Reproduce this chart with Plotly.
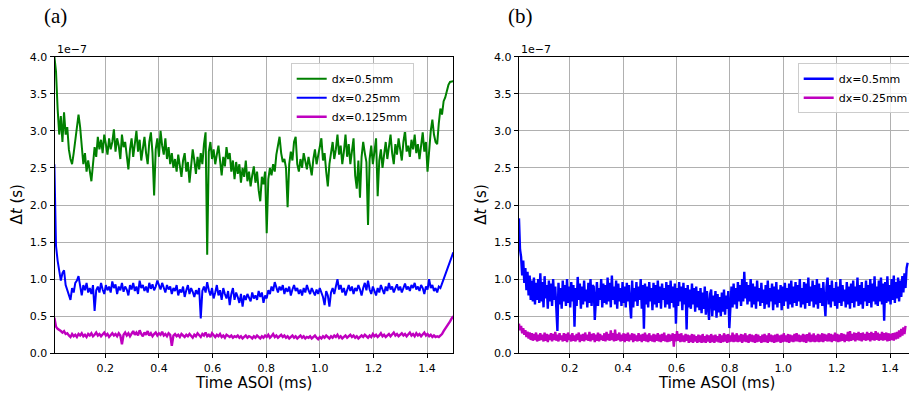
import numpy as np
import plotly.graph_objects as go

# Time step (Δt, in units of 1e-7 s) versus time after start of injection.
# Panel (a): three mesh resolutions; panel (b): two resolutions.

# ---- panel (a): samples every 6 µs starting at 0.010 ms ----
A_T0, A_DT = 0.010, 0.006

dt_a_05 = [
    4.00, 3.80, 3.30, 2.95, 3.20, 2.85, 3.25, 2.95, 3.05, 2.75,
    2.62, 2.55, 2.70, 2.85, 3.05, 3.22, 3.05, 2.80, 2.55, 2.70,
    2.45, 2.60, 2.48, 2.32, 2.55, 2.78, 2.65, 2.92, 2.75, 2.88,
    2.70, 2.95, 2.82, 2.68, 2.90, 2.75, 2.85, 3.02, 2.72, 2.90,
    2.80, 2.62, 2.95, 2.78, 2.85, 2.70, 2.48, 2.75, 2.90, 2.65,
    2.85, 3.00, 2.72, 2.88, 2.60, 2.80, 2.92, 2.70, 2.55, 2.85,
    2.98, 2.70, 2.13, 2.75, 2.90, 2.65, 3.00, 2.80, 2.68, 2.90,
    2.62, 2.78, 2.55, 2.70, 2.50, 2.62, 2.45, 2.68, 2.52, 2.38,
    2.60, 2.70, 2.45, 2.58, 2.30, 2.55, 2.75, 2.60, 2.42, 2.65,
    2.48, 2.70, 2.55, 2.82, 2.98, 1.33, 2.72, 2.85, 2.62, 2.75,
    2.55, 2.68, 2.80, 2.60, 2.40, 2.65, 2.52, 2.78, 2.62, 2.70,
    2.45, 2.60, 2.35, 2.58, 2.42, 2.55, 2.30, 2.50, 2.38, 2.60,
    2.32, 2.45, 2.25, 2.40, 2.52, 2.30, 2.45, 2.20, 2.05, 2.38,
    2.28, 2.45, 1.62, 2.35, 2.50, 2.40, 2.55, 2.45, 2.68, 2.80,
    2.92, 2.70, 2.58, 2.62, 2.50, 1.97, 2.55, 2.72, 2.60, 2.85,
    2.92, 2.55, 2.45, 2.62, 2.50, 2.70, 2.58, 2.48, 2.65, 2.52,
    2.40, 2.62, 2.75, 2.55, 2.68, 2.82, 2.90, 2.60, 2.70, 2.45,
    2.25, 2.55, 2.70, 2.85, 2.62, 2.75, 2.95, 2.68, 2.80, 2.55,
    2.72, 2.95, 2.65, 2.82, 2.55, 2.70, 2.90, 2.40, 2.22, 2.60,
    2.10, 2.65, 2.85, 2.70, 2.58, 1.73, 2.62, 2.80, 2.55, 2.72,
    2.90, 2.12, 2.60, 2.75, 2.50, 2.68, 2.85, 2.62, 2.78, 2.95,
    2.70, 2.55, 2.82, 2.68, 2.90, 2.75, 2.60, 2.85, 3.00, 2.72,
    2.80, 2.65, 2.88, 2.75, 2.95, 2.70, 2.82, 2.62, 2.78, 2.98,
    2.72, 2.85, 2.45, 2.80, 3.00, 3.15, 2.95, 2.85, 2.82, 3.10,
    3.30, 3.22, 3.40, 3.45, 3.55, 3.62, 3.66, 3.66, 3.67,
]

dt_a_025 = [
    2.55, 1.45, 1.25, 1.10, 0.98, 1.08, 1.12, 0.92, 0.85, 0.78,
    0.72, 0.88, 0.82, 0.95, 0.98, 1.04, 0.92, 0.78, 0.92, 0.85,
    0.95, 0.82, 0.88, 0.80, 0.92, 0.57, 0.85, 0.90, 0.82, 0.95,
    0.86, 0.80, 0.92, 0.85, 0.90, 0.82, 0.97, 0.88, 0.93, 0.80,
    0.90, 0.85, 0.95, 0.83, 0.90, 0.86, 0.78, 0.92, 0.86, 0.95,
    0.84, 0.90, 0.80, 0.98, 0.88, 0.92, 0.84, 0.90, 0.82, 0.95,
    0.87, 0.93, 0.85, 0.90, 0.98, 0.92, 0.86, 0.95, 0.88, 0.82,
    0.92, 0.86, 0.90, 0.80, 0.88, 0.84, 0.92, 0.78, 0.86, 0.82,
    0.90, 0.76, 0.85, 0.92, 0.80, 0.88, 0.83, 0.76, 0.85, 0.80,
    0.88, 0.47, 0.84, 0.90, 0.82, 0.96, 0.85, 0.78, 0.88, 0.74,
    0.82, 0.92, 0.78, 0.85, 0.72, 0.88, 0.80, 0.74, 0.84, 0.65,
    0.80, 0.88, 0.72, 0.82, 0.76, 0.68, 0.80, 0.63, 0.78, 0.72,
    0.80, 0.75, 0.70, 0.82, 0.74, 0.78, 0.72, 0.84, 0.76, 0.82,
    0.68, 0.78, 0.74, 0.85, 0.80, 0.90, 0.84, 0.96, 0.88, 0.82,
    0.90, 0.85, 0.92, 0.80, 0.88, 0.83, 0.90, 0.78, 0.86, 0.92,
    0.84, 0.88, 0.80, 0.86, 0.78, 0.88, 0.82, 0.92, 0.85, 0.80,
    0.88, 0.82, 0.78, 0.86, 0.80, 0.88, 0.82, 0.76, 0.65, 0.84,
    0.78, 0.63, 0.82, 0.88, 0.80, 0.90, 1.00, 0.86, 0.92, 0.82,
    0.88, 0.78, 0.86, 0.92, 0.84, 0.90, 0.80, 0.88, 0.84, 0.92,
    0.86, 0.78, 0.88, 0.95, 0.85, 0.98, 0.86, 0.80, 0.90, 0.84,
    0.78, 0.88, 0.82, 0.92, 0.86, 0.80, 0.90, 0.84, 0.95, 0.86,
    0.90, 0.82, 0.88, 0.93, 0.85, 0.90, 0.82, 0.88, 0.94, 0.86,
    0.90, 0.84, 0.92, 0.88, 0.95, 0.86, 0.90, 0.84, 0.92, 0.88,
    0.80, 0.90, 0.86, 1.00, 0.88, 0.92, 0.84, 0.88, 0.82, 0.90,
    0.88, 0.94, 1.00, 1.06, 1.12, 1.18, 1.24, 1.30, 1.36,
]

dt_a_0125 = [
    0.48, 0.36, 0.33, 0.32, 0.30, 0.28, 0.30, 0.26, 0.27, 0.24,
    0.22, 0.26, 0.23, 0.25, 0.22, 0.26, 0.24, 0.27, 0.23, 0.25,
    0.22, 0.26, 0.24, 0.27, 0.23, 0.25, 0.28, 0.24, 0.26, 0.23,
    0.25, 0.28, 0.24, 0.26, 0.22, 0.25, 0.27, 0.24, 0.26, 0.23,
    0.27, 0.24, 0.12, 0.25, 0.28, 0.24, 0.27, 0.23, 0.26, 0.30,
    0.25, 0.28, 0.24, 0.31, 0.26, 0.23, 0.28, 0.25, 0.30, 0.24,
    0.27, 0.23, 0.26, 0.28, 0.24, 0.27, 0.25, 0.29, 0.24, 0.26,
    0.23, 0.27, 0.25, 0.10, 0.24, 0.26, 0.23, 0.25, 0.22, 0.26,
    0.24, 0.22, 0.25, 0.23, 0.26, 0.24, 0.21, 0.25, 0.23, 0.27,
    0.24, 0.22, 0.26, 0.24, 0.28, 0.23, 0.25, 0.22, 0.27, 0.24,
    0.22, 0.25, 0.23, 0.26, 0.22, 0.24, 0.21, 0.25, 0.23, 0.22,
    0.24, 0.21, 0.23, 0.22, 0.24, 0.21, 0.23, 0.20, 0.22, 0.24,
    0.21, 0.23, 0.22, 0.20, 0.23, 0.21, 0.24, 0.22, 0.20, 0.23,
    0.21, 0.24, 0.22, 0.25, 0.21, 0.23, 0.26, 0.22, 0.24, 0.21,
    0.23, 0.25, 0.22, 0.24, 0.21, 0.23, 0.20, 0.22, 0.24, 0.21,
    0.23, 0.20, 0.22, 0.24, 0.21, 0.23, 0.20, 0.22, 0.21, 0.23,
    0.20, 0.22, 0.24, 0.21, 0.19, 0.22, 0.20, 0.23, 0.21, 0.24,
    0.22, 0.20, 0.23, 0.21, 0.24, 0.22, 0.25, 0.21, 0.23, 0.20,
    0.22, 0.24, 0.21, 0.23, 0.25, 0.22, 0.24, 0.21, 0.23, 0.20,
    0.22, 0.24, 0.22, 0.25, 0.23, 0.21, 0.24, 0.22, 0.26, 0.23,
    0.25, 0.22, 0.24, 0.27, 0.23, 0.25, 0.22, 0.24, 0.26, 0.23,
    0.25, 0.28, 0.24, 0.26, 0.23, 0.25, 0.27, 0.24, 0.26, 0.23,
    0.25, 0.28, 0.24, 0.26, 0.23, 0.27, 0.24, 0.26, 0.23, 0.25,
    0.28, 0.24, 0.26, 0.23, 0.25, 0.22, 0.24, 0.22, 0.23, 0.22,
    0.24, 0.26, 0.30, 0.33, 0.36, 0.40, 0.43, 0.47, 0.50,
]

# ---- panel (b): samples every 4 µs starting at 0.010 ms ----
B_T0, B_DT = 0.010, 0.004

dt_b_05 = [
    1.82, 1.40, 1.30, 1.05, 1.25, 0.95, 1.15, 0.85, 1.10, 0.78,
    1.05, 0.72, 0.98, 0.70, 1.02, 0.66, 0.95, 0.72, 1.00, 0.68,
    1.08, 0.70, 0.96, 0.62, 1.04, 0.74, 0.92, 0.60, 0.98, 0.70,
    0.94, 0.64, 1.00, 0.72, 0.90, 0.62, 0.30, 0.95, 0.66, 0.88,
    0.60, 0.98, 0.70, 0.92, 0.64, 1.00, 0.68, 0.90, 0.62, 0.96,
    0.70, 0.92, 0.36, 0.88, 0.64, 1.03, 0.72, 0.94, 0.60, 0.90,
    0.66, 0.98, 0.70, 0.86, 0.62, 0.95, 0.68, 1.00, 0.64, 0.92,
    0.90, 0.45, 0.70, 0.96, 0.64, 0.88, 0.72, 1.00, 0.62, 0.94,
    0.68, 0.92, 0.66, 1.02, 0.70, 0.95, 0.62, 1.05, 0.72, 0.90,
    0.66, 0.98, 0.60, 0.94, 0.70, 0.88, 0.64, 0.96, 0.68, 0.90,
    0.62, 0.95, 0.70, 0.92, 0.66, 0.47, 0.98, 0.62, 0.88, 0.70,
    0.96, 0.64, 0.90, 0.72, 1.00, 0.60, 0.92, 0.33, 0.94, 0.66,
    0.90, 0.62, 0.96, 0.70, 0.88, 0.58, 0.95, 0.66, 0.92, 0.62,
    0.98, 0.68, 0.90, 0.60, 0.94, 0.72, 0.88, 0.62, 0.96, 0.66,
    0.92, 0.60, 0.98, 0.68, 0.90, 0.62, 0.94, 0.40, 0.88, 0.64,
    0.96, 0.70, 0.90, 0.58, 0.95, 0.66, 0.88, 0.32, 0.92, 0.62,
    0.86, 0.60, 0.94, 0.66, 0.88, 0.56, 0.90, 0.62, 0.84, 0.58,
    0.88, 0.54, 0.82, 0.60, 0.90, 0.52, 0.84, 0.56, 0.45, 0.80,
    0.86, 0.50, 0.78, 0.58, 0.84, 0.48, 0.80, 0.55, 0.76, 0.50,
    0.82, 0.56, 0.86, 0.52, 0.78, 0.60, 0.84, 0.34, 0.55, 0.90,
    0.62, 0.94, 0.66, 0.88, 0.60, 0.96, 0.70, 0.92, 0.64, 1.00,
    0.70, 1.10, 0.74, 0.96, 0.66, 0.92, 0.70, 1.00, 0.62, 0.94,
    0.66, 0.90, 0.60, 0.98, 0.70, 0.88, 0.64, 0.95, 0.68, 0.86,
    0.60, 0.92, 0.66, 0.98, 0.62, 0.88, 0.70, 0.94, 0.58, 0.90,
    0.66, 0.96, 0.62, 0.86, 0.68, 0.92, 0.58, 0.90, 0.64, 0.95,
    0.70, 0.88, 0.60, 0.94, 0.66, 0.98, 0.62, 0.90, 0.68, 0.96,
    0.64, 0.92, 0.70, 1.00, 0.62, 0.88, 0.66, 0.96, 0.60, 0.94,
    0.68, 1.02, 0.64, 0.90, 0.70, 0.98, 0.62, 0.92, 0.66, 1.00,
    0.60, 0.94, 0.68, 0.88, 0.64, 0.96, 0.70, 0.50, 0.90, 1.02,
    0.66, 0.92, 0.62, 0.98, 0.70, 0.88, 0.64, 0.96, 0.60, 0.90,
    0.68, 1.00, 0.64, 0.92, 0.70, 0.86, 0.62, 0.96, 0.66, 0.90,
    0.60, 0.94, 0.68, 0.98, 0.62, 0.90, 0.70, 1.02, 0.64, 0.92,
    0.66, 0.96, 0.60, 0.88, 0.70, 0.98, 0.64, 0.92, 0.68, 1.00,
    0.62, 0.94, 0.70, 1.04, 0.66, 0.90, 0.64, 0.98, 0.70, 1.02,
    0.66, 0.94, 0.44, 0.96, 0.68, 1.04, 0.70, 0.92, 0.66, 1.00,
    0.72, 1.05, 0.68, 0.96, 0.74, 1.02, 0.70, 0.98, 0.76, 1.04,
    0.82, 1.08, 0.88, 1.15, 1.22,
]

dt_b_025 = [
    0.40, 0.31, 0.37, 0.27, 0.34, 0.25, 0.31, 0.22, 0.29, 0.20,
    0.28, 0.18, 0.27, 0.17, 0.26, 0.18, 0.28, 0.16, 0.25, 0.17,
    0.27, 0.18, 0.25, 0.16, 0.28, 0.17, 0.26, 0.15, 0.25, 0.18,
    0.27, 0.16, 0.26, 0.18, 0.29, 0.17, 0.25, 0.16, 0.27, 0.18,
    0.24, 0.16, 0.27, 0.17, 0.26, 0.15, 0.28, 0.18, 0.25, 0.16,
    0.27, 0.17, 0.24, 0.16, 0.26, 0.18, 0.28, 0.15, 0.25, 0.17,
    0.26, 0.16, 0.28, 0.18, 0.25, 0.17, 0.29, 0.16, 0.26, 0.18,
    0.27, 0.15, 0.25, 0.17, 0.28, 0.16, 0.26, 0.18, 0.24, 0.17,
    0.27, 0.16, 0.29, 0.18, 0.26, 0.17, 0.31, 0.18, 0.27, 0.16,
    0.32, 0.17, 0.26, 0.18, 0.28, 0.16, 0.25, 0.17, 0.27, 0.15,
    0.26, 0.17, 0.28, 0.16, 0.25, 0.18, 0.27, 0.15, 0.26, 0.17,
    0.24, 0.16, 0.27, 0.17, 0.25, 0.15, 0.26, 0.17, 0.28, 0.16,
    0.25, 0.15, 0.27, 0.17, 0.24, 0.16, 0.26, 0.15, 0.25, 0.17,
    0.27, 0.16, 0.25, 0.15, 0.26, 0.17, 0.28, 0.16, 0.24, 0.15,
    0.26, 0.16, 0.25, 0.17, 0.27, 0.09, 0.26, 0.16, 0.30, 0.17,
    0.26, 0.15, 0.27, 0.16, 0.24, 0.15, 0.26, 0.17, 0.25, 0.14,
    0.24, 0.15, 0.26, 0.14, 0.25, 0.16, 0.23, 0.14, 0.25, 0.15,
    0.24, 0.14, 0.26, 0.15, 0.23, 0.14, 0.25, 0.16, 0.24, 0.14,
    0.26, 0.15, 0.24, 0.14, 0.25, 0.16, 0.23, 0.15, 0.26, 0.14,
    0.24, 0.15, 0.27, 0.16, 0.25, 0.14, 0.26, 0.15, 0.24, 0.16,
    0.28, 0.15, 0.25, 0.16, 0.27, 0.15, 0.24, 0.16, 0.26, 0.14,
    0.25, 0.16, 0.27, 0.15, 0.24, 0.14, 0.26, 0.16, 0.25, 0.15,
    0.24, 0.14, 0.26, 0.15, 0.25, 0.16, 0.23, 0.14, 0.25, 0.15,
    0.26, 0.15, 0.24, 0.14, 0.27, 0.16, 0.25, 0.15, 0.24, 0.14,
    0.25, 0.15, 0.26, 0.16, 0.24, 0.14, 0.25, 0.15, 0.27, 0.16,
    0.24, 0.15, 0.26, 0.14, 0.25, 0.16, 0.24, 0.15, 0.26, 0.16,
    0.27, 0.16, 0.25, 0.15, 0.24, 0.16, 0.26, 0.15, 0.25, 0.14,
    0.26, 0.16, 0.28, 0.15, 0.25, 0.16, 0.27, 0.15, 0.24, 0.16,
    0.26, 0.15, 0.25, 0.16, 0.27, 0.15, 0.26, 0.17, 0.25, 0.16,
    0.27, 0.16, 0.26, 0.15, 0.25, 0.17, 0.28, 0.16, 0.26, 0.15,
    0.25, 0.16, 0.27, 0.17, 0.26, 0.15, 0.25, 0.17, 0.29, 0.16,
    0.30, 0.17, 0.26, 0.18, 0.28, 0.16, 0.27, 0.18, 0.29, 0.17,
    0.27, 0.16, 0.28, 0.18, 0.26, 0.17, 0.29, 0.18, 0.27, 0.16,
    0.29, 0.18, 0.27, 0.17, 0.30, 0.18, 0.28, 0.17, 0.26, 0.18,
    0.29, 0.17, 0.27, 0.18, 0.28, 0.16, 0.27, 0.17, 0.26, 0.18,
    0.27, 0.17, 0.28, 0.19, 0.29, 0.20, 0.31, 0.22, 0.33, 0.24,
    0.35, 0.26, 0.37,
]

X_TICKS = [0.2, 0.4, 0.6, 0.8, 1.0, 1.2, 1.4]
Y_TICKS = [0.0, 0.5, 1.0, 1.5, 2.0, 2.5, 3.0, 3.5, 4.0]

GREEN, BLUE, MAGENTA = "#008000", "#0000ff", "#bf00bf"
FONT = "DejaVu Sans"

W, H = 909, 397


def times(t0, dt, vals):
    return t0 + dt * np.arange(len(vals))


fig = go.Figure()

series = [
    ("x", "y", "legend", times(A_T0, A_DT, dt_a_05), dt_a_05, GREEN, "dx=0.5mm", 2.0),
    ("x", "y", "legend", times(A_T0, A_DT, dt_a_025), dt_a_025, BLUE, "dx=0.25mm", 2.0),
    ("x", "y", "legend", times(A_T0, A_DT, dt_a_0125), dt_a_0125, MAGENTA, "dx=0.125mm", 2.4),
    ("x2", "y2", "legend2", times(B_T0, B_DT, dt_b_05), dt_b_05, BLUE, "dx=0.5mm", 2.4),
    ("x2", "y2", "legend2", times(B_T0, B_DT, dt_b_025), dt_b_025, MAGENTA, "dx=0.25mm", 2.4),
]
for xa, ya, lg, t, v, c, name, lw in series:
    fig.add_trace(go.Scatter(
        x=t, y=v, mode="lines", name=name, xaxis=xa, yaxis=ya, legend=lg,
        line=dict(color=c, width=lw),
    ))

# Axes placement in pixels
AX_A = (54.5, 453.0)
AX_B = (518.7, 909.0)
AX_TOP, AX_BOT = 56.7, 353.3

def px_x(p):
    return p / W

def px_y(p):
    return 1 - p / H

common_x = dict(
    tickvals=X_TICKS, tickformat=".1f", ticks="outside", ticklen=4, tickwidth=1,
    tickcolor="black", showgrid=True, gridcolor="#b0b0b0", gridwidth=1,
    showline=True, linecolor="black", linewidth=1, mirror=True, zeroline=False,
    tickfont=dict(family=FONT, size=11, color="black"), automargin=False,
)
common_y = dict(
    range=[0, 4], tickvals=Y_TICKS, tickformat=".1f", ticks="outside", ticklen=4,
    tickwidth=1, tickcolor="black", showgrid=True, gridcolor="#b0b0b0", gridwidth=1,
    showline=True, linecolor="black", linewidth=1, zeroline=False,
    tickfont=dict(family=FONT, size=11, color="black"), automargin=False,
)

legend_style = dict(
    xanchor="left", yanchor="top",
    bgcolor="rgba(255,255,255,0.8)", bordercolor="#cccccc", borderwidth=1,
    font=dict(family=FONT, size=11, color="black"), tracegroupgap=0,
)

fig.update_layout(
    width=W, height=H, margin=dict(l=0, r=0, t=0, b=0, pad=0, autoexpand=False),
    paper_bgcolor="white", plot_bgcolor="white",
    font=dict(family=FONT, color="black"),
    xaxis=dict(common_x, domain=[px_x(AX_A[0]), px_x(AX_A[1])], range=[0.0104, 1.497], anchor="y"),
    yaxis=dict(common_y, domain=[px_y(AX_BOT), px_y(AX_TOP)], anchor="x", mirror=True),
    xaxis2=dict(common_x, domain=[px_x(AX_B[0]), 1.0], range=[0.009, 1.471], anchor="y2"),
    yaxis2=dict(common_y, domain=[px_y(AX_BOT), px_y(AX_TOP)], anchor="x2", mirror=False),
    legend=dict(legend_style, x=px_x(290.7), y=px_y(63.3)),
    legend2=dict(legend_style, x=px_x(797.7), y=px_y(63.3)),
    showlegend=True,
)

annotations = []
for (left, right), tag in [(AX_A, "(a)"), (AX_B, "(b)")]:
    annotations += [
        dict(text=tag, x=px_x(left - 13), y=px_y(16), xref="paper", yref="paper",
             xanchor="left", yanchor="middle", showarrow=False,
             font=dict(family="Liberation Serif", size=21, color="black")),
        dict(text="1e\u22127", x=px_x(left + 0.5), y=px_y(50), xref="paper", yref="paper",
             xanchor="left", yanchor="middle", showarrow=False,
             font=dict(family=FONT, size=11, color="black")),
        dict(text="Time ASOI (ms)", x=px_x((left + min(right, 911)) / 2 + (0 if tag == "(a)" else 3)),
             y=px_y(383), xref="paper", yref="paper", xanchor="center", yanchor="middle",
             showarrow=False, font=dict(family=FONT, size=15, color="black")),
        dict(text="\u0394<i>t</i> (s)", x=px_x(left - 38), y=px_y((AX_TOP + AX_BOT) / 2),
             xref="paper", yref="paper", xanchor="center", yanchor="middle", textangle=-90,
             showarrow=False, font=dict(family=FONT, size=15, color="black")),
    ]
fig.update_layout(annotations=annotations)

fig.write_html("out.html")
